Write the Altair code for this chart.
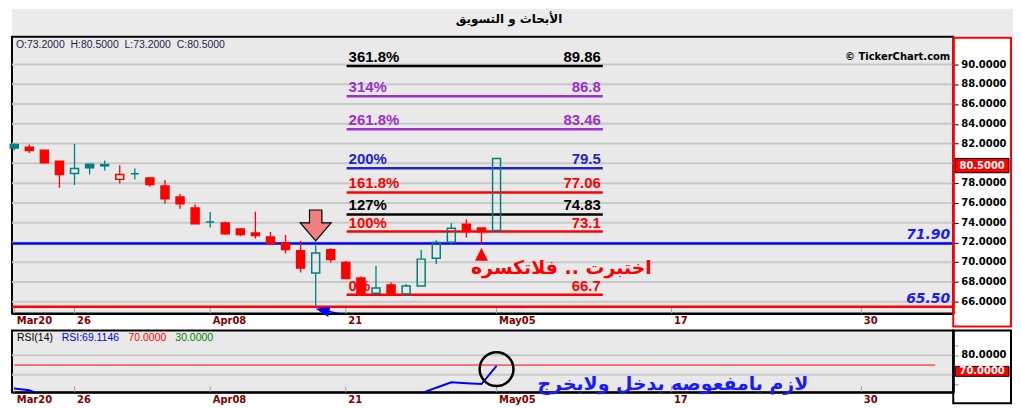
import altair as alt
import pandas as pd

# ---------------- data ----------------
TITLE = "الأبحاث و التسويق"
OHLC_TEXT = "O:73.2000\u00a0\u00a0H:80.5000\u00a0\u00a0L:73.2000\u00a0\u00a0C:80.5000"
COPYRIGHT = "© TickerChart.com"

OPEN = [81.91, 81.63, 81.33, 80.22, 78.98, 79.92, 79.87, 78.38, 78.95, 78.51,
        77.70, 76.59, 75.48, 74.07, 73.97, 73.37, 72.96, 72.56, 71.96, 71.15,
        68.90, 71.25, 69.97, 68.40, 66.85, 67.69, 66.78, 67.59, 70.41, 72.03,
        73.84, 73.47, 73.20]
HIGH = [82.04, 81.90, 81.33, 80.22, 81.97, 79.92, 80.29, 79.82, 79.49, 78.60,
        78.31, 76.93, 75.86, 75.08, 74.10, 73.37, 75.11, 73.06, 72.76, 72.16,
        71.72, 71.42, 70.14, 68.56, 69.64, 67.96, 67.79, 71.25, 72.23, 73.97,
        74.34, 73.47, 80.50]
LOW = [81.30, 81.06, 80.05, 77.53, 77.80, 78.88, 79.28, 77.97, 78.38, 77.63,
       75.92, 75.41, 73.90, 73.50, 72.76, 72.63, 72.39, 71.72, 70.88, 68.96,
       65.50, 69.97, 68.36, 66.78, 66.85, 66.61, 66.78, 67.59, 69.81, 71.83,
       72.49, 71.83, 73.20]
CLOSE = [81.56, 81.30, 80.05, 78.88, 79.49, 79.55, 79.75, 78.88, 78.95, 77.87,
         76.42, 75.92, 73.90, 74.07, 72.89, 72.79, 72.70, 71.89, 71.28, 69.40,
         70.92, 70.27, 68.36, 66.78, 67.39, 66.85, 67.59, 70.31, 71.99, 73.44,
         73.17, 73.10, 80.50]
PREV_CLOSE = 81.40

RSI = [45.8, 44.0, 38.0, 33.0, 36.0, 37.0, 38.0, 35.0, 36.0, 32.0,
       28.0, 26.0, 23.0, 25.0, 22.0, 21.0, 24.0, 22.0, 20.0, 17.0,
       27.0, 25.0, 22.0, 19.0, 25.0, 23.0, 27.0, 40.8, 46.7, 52.2,
       51.3, 50.4, 69.11]
RSI_LEVEL = 70.0
RSI_HDR_TEXT = ["RSI(14)", "RSI:69.1146", "70.0000", "30.0000"]
RSI_NOTE = "لازم يامفعوصه يدخل ولايخرج"

X_TICK_POS = [0, 4, 13, 22, 32, 43.6, 56.2]
X_TICK_LABELS = ["Mar20", "26", "Apr08", "21", "May05", "17", "30"]
PRICE_TICKS = [66, 68, 70, 72, 74, 76, 78, 82, 84, 86, 88, 90]
PRICE_GRID = [66, 68, 70, 72, 74, 76, 78, 80, 82, 84, 86, 88, 90]
LAST_PRICE = 80.5
RSI_TICKS = [90, 80, 50]
RSI_LABELED = [80]
RSI_GRID = [80, 60]

H_LEVELS = [71.90, 65.50]
H_LABELS = ["71.90", "65.50"]

FIB_PCT = ["0%", "100%", "127%", "161.8%", "200%", "261.8%", "314%", "361.8%"]
FIB_VAL = [66.7, 73.1, 74.83, 77.06, 79.5, 83.46, 86.8, 89.86]
FIB_TXT = ["66.7", "73.1", "74.83", "77.06", "79.5", "83.46", "86.8", "89.86"]
FIB_START, FIB_END = 22.05, 39.05

NOTE_RED = "اختبرت .. فلاتكسره"

# ---------------- layout / style ----------------
W = 945
MH = 278
RH = 62
TEAL = "#008080"
RED = "#ff0000"
FIB_COLORS = [RED, RED, "#000000", RED, "#2323c8", "#9932cc", "#9932cc", "#000000"]
H_COLORS = ["#0000ff", RED]
RSI_HDR_COLORS = ["#000000", "#0000ff", "#ff0000", "#008000"]
RSI_HDR_X = [5, 50, 117, 164]

xs = alt.Scale(domain=[-0.15, 62.3], nice=False, zero=False, padding=0)
ys = alt.Scale(domain=[64.8, 92.82], nice=False, zero=False, padding=0)
rs = alt.Scale(domain=[42, 105.5], nice=False, zero=False, padding=0)

label_expr = " : ".join(f"datum.value == {p} ? '{l}'" for p, l in zip(X_TICK_POS, X_TICK_LABELS)) + " : ''"

XAX = alt.Axis(values=X_TICK_POS, labelExpr=label_expr, grid=False, ticks=False,
               domainColor="#000000", domainWidth=2, labelColor="#800000", labelFont="DejaVu Sans",
               labelFontWeight="bold", labelFontSize=10, labelAlign="left", labelOffset=2,
               labelPadding=2, labelOverlap=False, labelFlush=False, title="")
YAX = alt.Axis(orient="right", values=PRICE_TICKS, grid=False, labels=False, domainColor=RED,
               domainWidth=2, tickColor="#000000", tickSize=5, title="")
RAX = alt.Axis(orient="right", values=RSI_TICKS, grid=False, labels=False, domainColor="#000000",
               domainWidth=2, tickColor="#999999", tickSize=5, title="")


def X(f):
    return alt.X(f, scale=xs, axis=XAX)


def Y(f):
    return alt.Y(f, scale=ys, axis=YAX)


def R(f):
    return alt.Y(f, scale=rs, axis=RAX)


# ---------------- candles ----------------
prev = [PREV_CLOSE] + CLOSE[:-1]
cdf = pd.DataFrame({
    "i": list(range(len(OPEN))), "o": OPEN, "h": HIGH, "l": LOW, "c": CLOSE, "pc": prev,
})
cdf["top"] = cdf[["o", "c"]].max(axis=1)
cdf["bot"] = cdf[["o", "c"]].min(axis=1)
cdf["col"] = [TEAL if c >= p else RED for c, p in zip(cdf["c"], cdf["pc"])]
cdf["fillc"] = ["transparent" if c > o else col for c, o, col in zip(cdf["c"], cdf["o"], cdf["col"])]

grid = alt.Chart(pd.DataFrame({"p": PRICE_GRID})).mark_rule(color="#c9c9c9", strokeWidth=2).encode(y=Y("p:Q"))
ylabels = alt.Chart(pd.DataFrame({"p": PRICE_TICKS})).mark_text(
    font="DejaVu Sans", fontWeight="bold", fontSize=10, color="#000000", align="left", baseline="middle",
    clip=False).encode(x=alt.value(W + 8), y=Y("p:Q"), text=alt.Text("p:Q", format=".4f"))

xticks_main = alt.Chart(pd.DataFrame({"t": X_TICK_POS})).mark_rule(color="#a0a0a0", strokeWidth=1).encode(
    x=X("t:Q"), y=alt.value(MH - 6), y2=alt.value(MH))

hdf = pd.DataFrame({"p": H_LEVELS, "lab": H_LABELS, "col": H_COLORS})
hlines = alt.Chart(hdf).mark_rule(strokeWidth=2.5).encode(
    y=Y("p:Q"), color=alt.Color("col:N", scale=None))
hlabels = alt.Chart(hdf).mark_text(font="DejaVu Sans", fontWeight="bold", fontStyle="italic", fontSize=14,
                                   align="right", baseline="alphabetic", dy=-4, color="#1a1aff").encode(
    x=alt.value(W - 3), y=Y("p:Q"), text="lab:N")

fdf = pd.DataFrame({"p": FIB_VAL, "pct": FIB_PCT, "txt": FIB_TXT, "col": FIB_COLORS,
                    "x1": FIB_START, "x2": FIB_END})
flines = alt.Chart(fdf).mark_rule(strokeWidth=2.5).encode(
    x=X("x1:Q"), x2="x2:Q", y=Y("p:Q"), color=alt.Color("col:N", scale=None))
fpct = alt.Chart(fdf).mark_text(font="Liberation Sans", fontWeight="bold", fontSize=15, align="left",
                                baseline="alphabetic", dx=2, dy=-4).encode(
    x=X("x1:Q"), y=Y("p:Q"), text="pct:N", color=alt.Color("col:N", scale=None))
fval = alt.Chart(fdf).mark_text(font="Liberation Sans", fontWeight="bold", fontSize=15, align="right",
                                baseline="alphabetic", dx=-2, dy=-4).encode(
    x=X("x2:Q"), y=Y("p:Q"), text="txt:N", color=alt.Color("col:N", scale=None))

wick_up = alt.Chart(cdf).mark_rule(strokeWidth=1.3).encode(
    x=X("i:Q"), y=Y("h:Q"), y2="top:Q", color=alt.Color("col:N", scale=None))
wick_dn = alt.Chart(cdf).mark_rule(strokeWidth=1.3).encode(
    x=X("i:Q"), y=Y("bot:Q"), y2="l:Q", color=alt.Color("col:N", scale=None))
bodies = alt.Chart(cdf).mark_bar(size=8, strokeWidth=1.5).encode(
    x=X("i:Q"), y=Y("top:Q"), y2="bot:Q",
    fill=alt.Fill("fillc:N", scale=None), stroke=alt.Stroke("col:N", scale=None))

DOWN_ARROW = "M -0.4 -1 L 0.4 -1 L 0.4 -0.16 L 1 -0.16 L 0 1 L -1 -0.16 L -0.4 -0.16 Z"
UP_TRI = "M 0 -1 L 1 1 L -1 1 Z"
LEFT_TRI = "M -1 0 L 1 -0.75 L 1 0.75 Z"

arrow_big = alt.Chart(pd.DataFrame({"i": [20], "p": [73.72]})).mark_point(
    shape=DOWN_ARROW, size=961, filled=True, fill="#f08080", stroke="#000000", strokeWidth=1.2, opacity=1).encode(
    x=X("i:Q"), y=Y("p:Q"))
arrow_red = alt.Chart(pd.DataFrame({"i": [31], "p": [70.80]})).mark_point(
    shape=UP_TRI, size=169, filled=True, fill=RED, opacity=1, strokeWidth=0).encode(
    x=X("i:Q"), y=Y("p:Q"))
blue_line = alt.Chart(pd.DataFrame({"i": [20.5, 22.3], "p": [65.15, 64.55]})).mark_line(
    color="#0000ff", strokeWidth=1.5, clip=True).encode(x=X("i:Q"), y=Y("p:Q"))
blue_head = alt.Chart(pd.DataFrame({"i": [20.45], "p": [65.13]})).mark_point(
    shape=LEFT_TRI, size=196, filled=True, fill="#0000ff", opacity=1, strokeWidth=0, angle=12).encode(
    x=X("i:Q"), y=Y("p:Q"))

note_red = alt.Chart(pd.DataFrame({"t": [NOTE_RED], "i": [36.3], "p": [69.45]})).mark_text(
    font="DejaVu Sans", fontWeight="bold", fontSize=19, color=RED).encode(
    x=X("i:Q"), y=Y("p:Q"), text="t:N")

ohlc = alt.Chart(pd.DataFrame({"t": [OHLC_TEXT]})).mark_text(
    font="Liberation Sans", fontSize=10.5, color="#1e1e50", align="left", baseline="middle").encode(
    x=alt.value(4), y=alt.value(8), text="t:N")
copy_txt = alt.Chart(pd.DataFrame({"t": [COPYRIGHT]})).mark_text(
    font="DejaVu Sans", fontWeight="bold", fontSize=10, color="#000000", align="right", baseline="middle").encode(
    x=alt.value(W - 3), y=alt.value(20), text="t:N")

axis_box = alt.Chart(pd.DataFrame({"a": [0]})).mark_rect(
    fill="transparent", stroke=RED, strokeWidth=2, clip=False).encode(
    x=alt.value(W), x2=alt.value(W + 58), y=alt.value(1), y2=alt.value(MH + 13))
last_df = pd.DataFrame({"p": [LAST_PRICE], "p2": [LAST_PRICE - 1.45], "pm": [LAST_PRICE - 0.72],
                        "t": [f"{LAST_PRICE:.4f}"]})
last_box = alt.Chart(last_df).mark_rect(fill=RED, stroke="#000000", strokeWidth=1, clip=False).encode(
    x=alt.value(W + 2), x2=alt.value(W + 56), y=Y("p:Q"), y2="p2:Q")
last_txt = alt.Chart(last_df).mark_text(font="DejaVu Sans", fontWeight="bold", fontSize=10, color="#ffffff",
                                        baseline="middle").encode(
    x=alt.value(W + 29), y=Y("pm:Q"), text="t:N")

main = alt.layer(
    grid, xticks_main, hlines, hlabels, flines, fpct, fval, wick_up, wick_dn, bodies,
    arrow_big, arrow_red, blue_line, blue_head, note_red, ohlc, copy_txt, axis_box, ylabels,
    last_box, last_txt,
).properties(width=W, height=MH,
             view=alt.ViewBackground(fill="#e9e9e9", stroke="#000000", strokeWidth=2))

# ---------------- RSI panel ----------------
rdf = pd.DataFrame({"i": list(range(len(RSI))), "r": RSI})

rgrid = alt.Chart(pd.DataFrame({"v": RSI_GRID})).mark_rule(color="#c9c9c9", strokeWidth=2).encode(y=R("v:Q"))
rlabels = alt.Chart(pd.DataFrame({"v": RSI_LABELED})).mark_text(
    font="DejaVu Sans", fontWeight="bold", fontSize=10, color="#000000", align="left", baseline="middle",
    clip=False).encode(x=alt.value(W + 8), y=R("v:Q"), text=alt.Text("v:Q", format=".4f"))
xticks_rsi = alt.Chart(pd.DataFrame({"t": X_TICK_POS})).mark_rule(color="#a0a0a0", strokeWidth=1).encode(
    x=X("t:Q"), y=alt.value(RH - 6), y2=alt.value(RH))
rlevel = alt.Chart(pd.DataFrame({"v": [RSI_LEVEL], "x1": [0], "x2": [61.1]})).mark_rule(
    color=RED, strokeWidth=1).encode(x=X("x1:Q"), x2="x2:Q", y=R("v:Q"))
rline = alt.Chart(rdf).mark_line(color="#0000ff", strokeWidth=2, clip=True).encode(
    x=X("i:Q"), y=R("r:Q"))
rcircle = alt.Chart(pd.DataFrame({"i": [32], "v": [65.8]})).mark_point(
    shape="circle", size=1156, filled=False, stroke="#000000", strokeWidth=2.5, opacity=1).encode(
    x=X("i:Q"), y=R("v:Q"))
rnote = alt.Chart(pd.DataFrame({"t": [RSI_NOTE], "i": [43.7], "v": [50.5]})).mark_text(
    font="DejaVu Sans", fontWeight="bold", fontSize=19, color="#1a1aff").encode(
    x=X("i:Q"), y=R("v:Q"), text="t:N")
rhdr = alt.Chart(pd.DataFrame({"t": RSI_HDR_TEXT, "c": RSI_HDR_COLORS, "px": RSI_HDR_X})).mark_text(
    font="Liberation Sans", fontSize=10.5, align="left", baseline="middle").encode(
    x=alt.X("px:Q", scale=None, axis=XAX), y=alt.value(8), text="t:N", color=alt.Color("c:N", scale=None))
rbox = alt.Chart(pd.DataFrame({"a": [0]})).mark_rect(
    fill="transparent", stroke="#000000", strokeWidth=2, clip=False).encode(
    x=alt.value(W), x2=alt.value(W + 58), y=alt.value(0), y2=alt.value(RH + 11))
rl_df = pd.DataFrame({"v": [68.6], "v2": [58.4], "vm": [63.5], "t": [f"{RSI_LEVEL:.4f}"]})
rl_box = alt.Chart(rl_df).mark_rect(fill=RED, stroke="#000000", strokeWidth=1, clip=False).encode(
    x=alt.value(W + 2), x2=alt.value(W + 56), y=R("v:Q"), y2="v2:Q")
rl_txt = alt.Chart(rl_df).mark_text(font="DejaVu Sans", fontWeight="bold", fontSize=10, color="#ffffff",
                                    baseline="middle").encode(
    x=alt.value(W + 29), y=R("vm:Q"), text="t:N")

rsi = alt.layer(
    rgrid, xticks_rsi, rlevel, rline, rcircle, rnote, rhdr, rbox, rlabels, rl_box, rl_txt,
).properties(width=W, height=RH,
             view=alt.ViewBackground(fill="#e9e9e9", stroke="#000000", strokeWidth=2))

# ---------------- title band ----------------
band = alt.Chart(pd.DataFrame({"t": [TITLE]})).mark_text(
    font="DejaVu Sans", fontWeight="bold", fontSize=12, color="#000000", baseline="middle").encode(
    x=alt.value(499), y=alt.value(10), text="t:N"
).properties(width=1005, height=27,
             view=alt.ViewBackground(fill="#ebebeb", stroke="transparent", strokeWidth=0))

chart = alt.vconcat(band, main, rsi, spacing=0).properties(
    padding=0, background="#ffffff"
)

chart.save("out.html", embed_options={"renderer": "svg", "actions": False})
